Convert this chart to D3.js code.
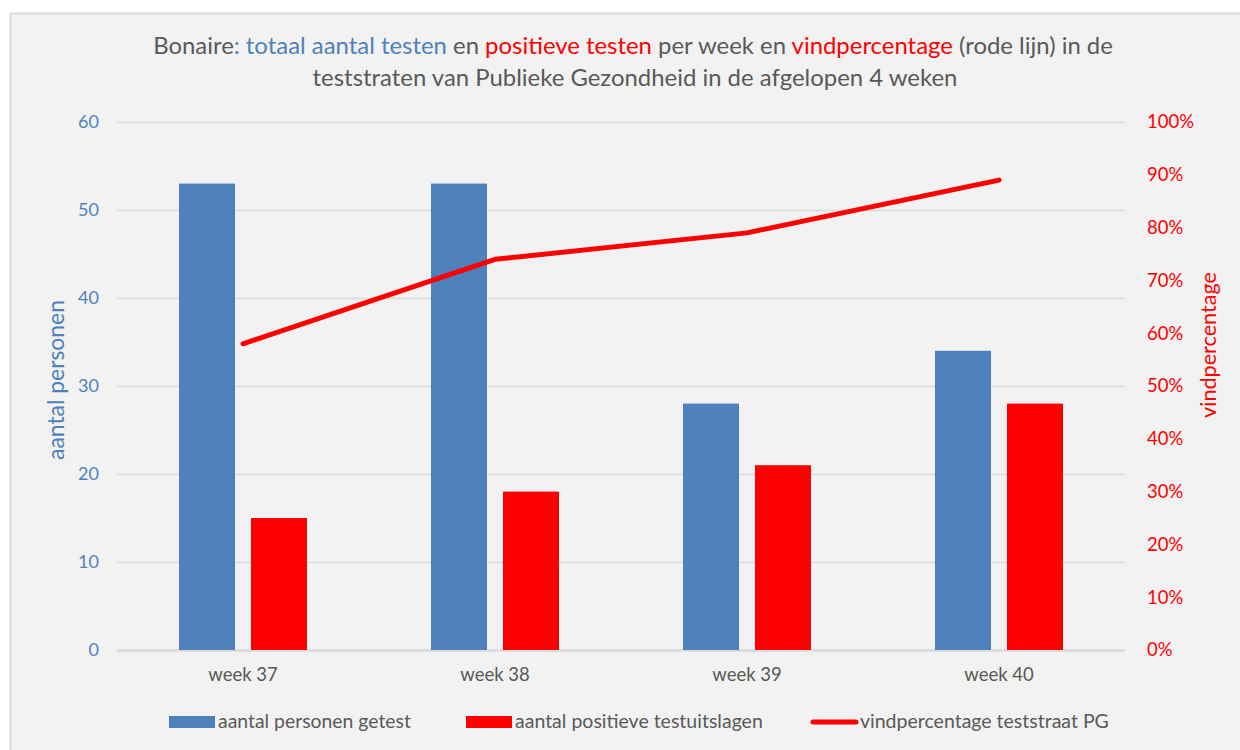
<!DOCTYPE html>
<html><head><meta charset="utf-8">
<script src="https://cdn.jsdelivr.net/npm/d3@7"></script>
<style>
html,body{margin:0;padding:0;background:#fff;}
svg{display:block;}
text{font-family:Lato,"Open Sans","Liberation Sans",sans-serif;}
</style></head>
<body>
<svg id="c" width="1240" height="750"></svg>
<script>
const weeks = ["week 37", "week 38", "week 39", "week 40"];
const tested = [53, 53, 28, 34];
const positive = [15, 18, 21, 28];
const findPct = [58, 74, 79, 89];
const leftTicks = [0, 10, 20, 30, 40, 50, 60];
const rightTicks = [0, 10, 20, 30, 40, 50, 60, 70, 80, 90, 100];
const seriesNames = ["aantal personen getest", "aantal positieve testuitslagen", "vindpercentage teststraat PG"];

const BLUE = "#4f81bd", RED = "#ff0000", GRAY = "#595959", GRID = "#d9d9d9";
const svg = d3.select("#c");

function fitText(sel, baseSize, targetW) {
  sel.attr("font-size", baseSize);
  const w = sel.node().getComputedTextLength();
  sel.attr("font-size", baseSize * targetW / w);
}

// background frame
svg.append("rect").attr("x", 10.5).attr("y", 13.5).attr("width", 1240).attr("height", 750)
  .attr("fill", "#f2f2f2").attr("stroke", "#d9d9d9").attr("stroke-width", 2);

const pL = 117, pR = 1125, pT = 122, pB = 650;
const x = d3.scaleBand().domain(weeks).range([pL, pR]).paddingInner(0).paddingOuter(0);
const y = d3.scaleLinear().domain([0, 60]).range([pB, pT]);
const y2 = d3.scaleLinear().domain([0, 100]).range([pB, pT]);
const sub = d3.scaleBand().domain([0, 1]).range([0, 128]).paddingInner(16 / 72);

// gridlines
const gridAxis = d3.axisLeft(y).tickValues(leftTicks).tickSize(-(pR - pL)).tickFormat("");
const gg = svg.append("g").attr("transform", `translate(${pL},0)`).call(gridAxis);
gg.select(".domain").remove();
gg.selectAll("line").attr("stroke", GRID).attr("stroke-width", 1.5);
gg.selectAll(".tick").filter(d => d === 0).select("line").attr("stroke-width", 2.5);

// left axis labels
const la = svg.append("g").attr("transform", `translate(${pL},0)`)
  .call(d3.axisLeft(y).tickValues(leftTicks).tickSize(0).tickPadding(18));
la.select(".domain").remove();
la.selectAll("text").attr("fill", BLUE).attr("font-size", 18).attr("font-family", "Lato,sans-serif");

// right axis labels
const ra = svg.append("g").attr("transform", `translate(${pR},0)`)
  .call(d3.axisRight(y2).tickValues(rightTicks).tickSize(0).tickPadding(22).tickFormat(d => d + "%"));
ra.select(".domain").remove();
ra.selectAll("text").attr("fill", RED).attr("font-size", 18.5).attr("font-family", "Lato,sans-serif");

// x axis labels
const xa = svg.append("g").attr("transform", `translate(0,${pB})`)
  .call(d3.axisBottom(x).tickSize(0).tickPadding(18));
xa.select(".domain").remove();
xa.selectAll("text").attr("fill", GRAY).attr("font-size", 18.5).attr("font-family", "Lato,sans-serif");

// bars
const gx = d => x(d) + x.bandwidth() / 2 - 64;
svg.append("g").selectAll("rect").data(weeks).join("rect")
  .attr("x", (d) => gx(d) + sub(0)).attr("width", sub.bandwidth())
  .attr("y", (d, i) => y(tested[i])).attr("height", (d, i) => y(0) - y(tested[i]))
  .attr("fill", BLUE);
svg.append("g").selectAll("rect").data(weeks).join("rect")
  .attr("x", (d) => gx(d) + sub(1)).attr("width", sub.bandwidth())
  .attr("y", (d, i) => y(positive[i])).attr("height", (d, i) => y(0) - y(positive[i]))
  .attr("fill", RED);

// line
const line = d3.line().x((d, i) => x(weeks[i]) + x.bandwidth() / 2).y(d => y2(d));
svg.append("path").datum(findPct).attr("d", line).attr("fill", "none")
  .attr("stroke", RED).attr("stroke-width", 5).attr("stroke-linejoin", "round").attr("stroke-linecap", "round");

// axis titles
const at1 = svg.append("text").attr("transform", "translate(64,380) rotate(-90)").attr("text-anchor", "middle")
  .attr("fill", BLUE).text("aantal personen");
fitText(at1, 20, 160);
const at2 = svg.append("text").attr("transform", "translate(1216,345) rotate(-90)").attr("text-anchor", "middle")
  .attr("fill", RED).text("vindpercentage");
fitText(at2, 20, 146);

// title
const t1 = svg.append("text").attr("x", 633).attr("y", 54).attr("text-anchor", "middle").attr("font-size", 20);
[["Bonaire", GRAY], [": totaal aantal testen", BLUE], [" en ", GRAY], ["positieve testen", RED],
 [" per week en ", GRAY], ["vindpercentage", RED], [" (rode lijn) in de", GRAY]]
  .forEach(([s, c]) => t1.append("tspan").attr("fill", c).text(s));
const t2 = svg.append("text").attr("x", 635).attr("y", 86).attr("text-anchor", "middle").attr("font-size", 20)
  .attr("fill", GRAY).text("teststraten van Publieke Gezondheid in de afgelopen 4 weken");
const w1 = t1.node().getComputedTextLength();
const fs = 20 * 960 / w1;
t1.attr("font-size", fs);
t2.attr("font-size", fs);

// legend
const lg = svg.append("g");
const legendX = [169, 466, 811];
const legendTargetW = [193, 248, 249];
seriesNames.forEach((name, i) => {
  const lx = legendX[i];
  if (i < 2) {
    lg.append("rect").attr("x", lx).attr("y", 716).attr("width", 46).attr("height", 12).attr("fill", i === 0 ? BLUE : RED);
  } else {
    lg.append("line").attr("x1", lx + 2).attr("x2", lx + 45).attr("y1", 722).attr("y2", 722)
      .attr("stroke", RED).attr("stroke-width", 5).attr("stroke-linecap", "round");
  }
  const t = lg.append("text").attr("x", lx + 49).attr("y", 728).attr("fill", GRAY).text(name);
  fitText(t, 17, legendTargetW[i]);
});
</script>
</body></html>
